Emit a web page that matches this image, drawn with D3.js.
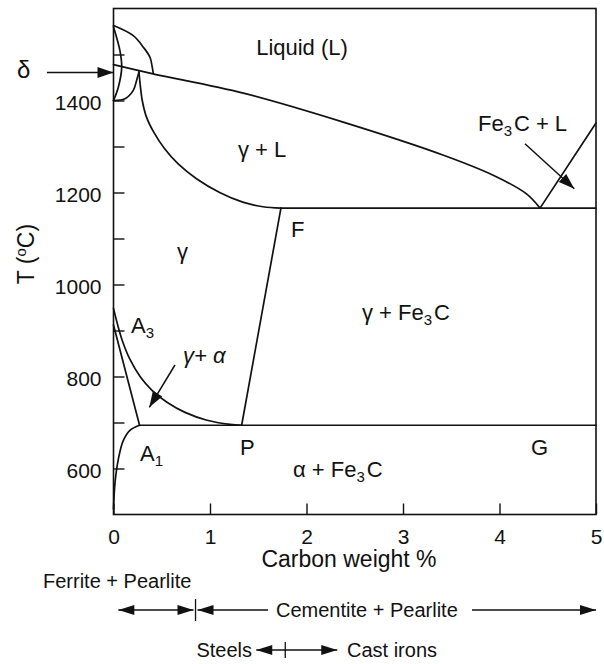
<!DOCTYPE html>
<html>
<head>
<meta charset="utf-8">
<script src="https://cdn.jsdelivr.net/npm/d3@7/dist/d3.min.js"></script>
<style>
  html, body { margin: 0; padding: 0; background: #fff; }
  svg { display: block; }
  text { font-family: "Liberation Sans", Arial, Helvetica, sans-serif; fill: #111; }
</style>
</head>
<body>
<svg id="chart" width="604" height="664"></svg>
<script>
// Axis ticks
const xTickValues = [0, 1, 2, 3, 4, 5];
const yTickValues = [600, 700, 800, 900, 1000, 1100, 1200, 1300, 1400, 1500];
const yTickLabels = [600, 800, 1000, 1200, 1400];

// Phase boundaries: [carbon wt %, temperature °C]
const liquidus = [[0, 1478], [0.41, 1458], [1.345, 1416], [2.38, 1353], [3.42, 1281], [3.94, 1237], [4.28, 1197], [4.42, 1166]];
const cementiteLiquidus = [[4.42, 1166], [5, 1351]];
const eutecticLine = [[1.735, 1166], [5, 1166]];
const solidus = [[0.264, 1462], [0.278, 1432], [0.298, 1400], [0.34, 1365], [0.42, 1330], [0.53, 1295], [0.67, 1262], [0.86, 1230], [1.10, 1200], [1.34, 1179], [1.55, 1169], [1.735, 1166]];
const acmLine = [[1.735, 1166], [1.328, 694]];
const eutectoidLine = [[0.27, 694], [5, 694]];
const a3Curve = [[0, 948], [0.047, 909], [0.098, 874], [0.171, 837], [0.275, 800], [0.399, 770], [0.554, 744], [0.741, 722], [0.969, 705], [1.207, 696], [1.328, 694]];
const alphaBoundary = [[0, 912], [0.27, 694]];
const alphaSolvus = [[0, 512], [0.016, 570], [0.05, 620], [0.10, 660], [0.17, 683], [0.27, 694]];
const deltaOuter = [[0, 1563], [0.205, 1541], [0.309, 1516], [0.378, 1494], [0.402, 1472], [0.412, 1459]];
const deltaLens = [[0, 1560], [0.067, 1508], [0.085, 1472], [0.05, 1429], [0, 1400]];
const deltaGamma = [[0, 1400], [0.119, 1404], [0.205, 1422], [0.24, 1444], [0.264, 1462]];

// Pointer arrows: [from, to] in (wt %, °C)
const deltaArrow = [[-0.69, 1461], [0, 1461]];
const gammaAlphaArrow = [[0.637, 825], [0.371, 733]];
const cementiteLiquidArrow = [[4.264, 1306], [4.775, 1208]];

// Microstructure ranges below the axis (wt %)
const ferritePearlite = [0.05, 0.85];
const cementitePearlite = [0.85, 5];
const steelCastDivide = 1.78;

const svg = d3.select("#chart");
const x = d3.scaleLinear().domain([0, 5]).range([113.5, 596]);
const y = d3.scaleLinear().domain([500, 1600]).range([514.5, 8.5]);

const ink = "#111";

// Frame
svg.append("rect")
  .attr("x", x(0)).attr("y", y(1600))
  .attr("width", x(5) - x(0)).attr("height", y(500) - y(1600))
  .attr("fill", "none").attr("stroke", ink).attr("stroke-width", 1.6);

// Axes with inward ticks
const yAxis = d3.axisLeft(y).tickValues(yTickValues).tickSize(-11).tickPadding(12)
  .tickFormat(d => yTickLabels.includes(d) ? d : "");
const gy = svg.append("g").attr("transform", `translate(${x(0)},0)`).call(yAxis);
gy.select(".domain").remove();
gy.selectAll("line").attr("stroke", ink).attr("stroke-width", 1.4);
gy.selectAll("text").attr("font-size", 21).attr("dy", "0.45em")
  .attr("font-family", "'Liberation Sans', Arial, sans-serif").attr("fill", ink);

const xAxis = d3.axisBottom(x).tickValues(xTickValues).tickSize(-11).tickPadding(15)
  .tickFormat(d3.format("d"));
const gx = svg.append("g").attr("transform", `translate(0,${y(500)})`).call(xAxis);
gx.select(".domain").remove();
gx.selectAll("line").attr("stroke", ink).attr("stroke-width", 1.4);
gx.selectAll("text").attr("font-size", 21)
  .attr("font-family", "'Liberation Sans', Arial, sans-serif").attr("fill", ink);

// Axis titles
svg.append("text").attr("x", 349).attr("y", 567).attr("text-anchor", "middle")
  .attr("font-size", 23).text("Carbon weight %");
const yt = svg.append("text").attr("transform", "translate(34,254) rotate(-90)")
  .attr("text-anchor", "middle").attr("font-size", 23);
yt.append("tspan").text("T (");
yt.append("tspan").attr("font-size", 15).attr("baseline-shift", "super").text("o");
yt.append("tspan").text("C)");

// Phase boundary curves
const smooth = d3.line().x(d => x(d[0])).y(d => y(d[1])).curve(d3.curveCatmullRom.alpha(0.5));
const straight = d3.line().x(d => x(d[0])).y(d => y(d[1]));
const curves = [liquidus, solidus, a3Curve, alphaSolvus, deltaOuter, deltaLens, deltaGamma];
const lines = [cementiteLiquidus, eutecticLine, acmLine, eutectoidLine, alphaBoundary];
const g = svg.append("g").attr("fill", "none").attr("stroke", ink).attr("stroke-width", 1.7)
  .attr("stroke-linejoin", "round").attr("stroke-linecap", "round");
curves.forEach(c => g.append("path").attr("d", smooth(c)));
lines.forEach(c => g.append("path").attr("d", straight(c)));

// Arrow with filled head at the far end (pixel coordinates)
function arrowHead(p0, p1, len, half) {
  const dx = p1[0] - p0[0], dy = p1[1] - p0[1];
  const L = Math.hypot(dx, dy), ux = dx / L, uy = dy / L;
  const bx = p1[0] - ux * len, by = p1[1] - uy * len;
  return `M${p1[0]},${p1[1]}L${bx - uy * half},${by + ux * half}L${bx + uy * half},${by - ux * half}Z`;
}
function drawArrow(parent, p0, p1, heads, len = 16, half = 5.5) {
  parent.append("line").attr("x1", p0[0]).attr("y1", p0[1]).attr("x2", p1[0]).attr("y2", p1[1])
    .attr("stroke", ink).attr("stroke-width", 1.5);
  if (heads.includes("end")) parent.append("path").attr("d", arrowHead(p0, p1, len, half)).attr("fill", ink);
  if (heads.includes("start")) parent.append("path").attr("d", arrowHead(p1, p0, len, half)).attr("fill", ink);
}
const px = d => [x(d[0]), y(d[1])];
const arrows = svg.append("g");
[deltaArrow, gammaAlphaArrow, cementiteLiquidArrow].forEach(a => drawArrow(arrows, px(a[0]), px(a[1]), ["end"]));

// Region labels
const labels = svg.append("g").attr("font-size", 22);
function label(xp, yp, parts, opts = {}) {
  const t = labels.append("text").attr("x", xp).attr("y", yp);
  if (opts.anchor) t.attr("text-anchor", opts.anchor);
  if (opts.family) t.attr("font-family", opts.family);
  if (opts.style) t.attr("font-style", opts.style);
  parts.forEach(p => {
    if (typeof p === "string") t.append("tspan").text(p);
    else {
      t.append("tspan").attr("font-size", 15).attr("dy", 5).text(p.sub);
      t.append("tspan").attr("dy", -5).text("\u200a");
    }
  });
  return t;
}
label(302, 55, ["Liquid (L)"], { anchor: "middle" });
label(238, 157, ["\u03b3 + L"]);
label(478, 131, ["Fe", { sub: "3" }, "C + L"]);
label(291, 237, ["F"]);
label(177, 259, ["\u03b3"]);
label(362, 320, ["\u03b3 + Fe", { sub: "3" }, "C"]);
label(131, 333, ["A", { sub: "3" }]);
label(183, 363, ["\u03b3+ \u03b1"], { family: "'Liberation Serif', 'Times New Roman', serif", style: "italic" });
label(140, 461, ["A", { sub: "1" }]);
label(240, 455, ["P"]);
label(531, 455, ["G"]);
label(293, 477, ["\u03b1 + Fe", { sub: "3" }, "C"]);
labels.append("text").attr("x", 17).attr("y", 78).attr("font-size", 24)
  .attr("font-family", "'Liberation Serif', 'Times New Roman', serif").text("\u03b4");

// Microstructure ranges under the axis
const bottom = svg.append("g");
const bText = (xp, yp, s, anchor) => bottom.append("text").attr("x", xp).attr("y", yp)
  .attr("font-size", 20).attr("text-anchor", anchor || "start").text(s);
bText(43, 588, "Ferrite + Pearlite");
const rowY = 610;
drawArrow(bottom, [x(ferritePearlite[0]), rowY], [x(ferritePearlite[1]) - 2, rowY], ["start", "end"], 16, 5);
bottom.append("line").attr("x1", x(ferritePearlite[1])).attr("x2", x(ferritePearlite[1]))
  .attr("y1", rowY - 11).attr("y2", rowY + 11).attr("stroke", ink).attr("stroke-width", 1.3);
bText(276, rowY + 7, "Cementite + Pearlite");
drawArrow(bottom, [268, rowY], [x(cementitePearlite[0]) + 2, rowY], ["end"], 16, 5);
drawArrow(bottom, [472, rowY], [x(cementitePearlite[1]), rowY], ["end"], 16, 5);

const row2 = 650;
bText(252, row2 + 7, "Steels", "end");
drawArrow(bottom, [x(steelCastDivide) - 29, row2], [x(steelCastDivide) + 52, row2], ["start", "end"], 16, 5);
bottom.append("line").attr("x1", x(steelCastDivide)).attr("x2", x(steelCastDivide))
  .attr("y1", row2 - 8).attr("y2", row2 + 8).attr("stroke", ink).attr("stroke-width", 1.3);
bText(347, row2 + 7, "Cast irons");
</script>
</body>
</html>
